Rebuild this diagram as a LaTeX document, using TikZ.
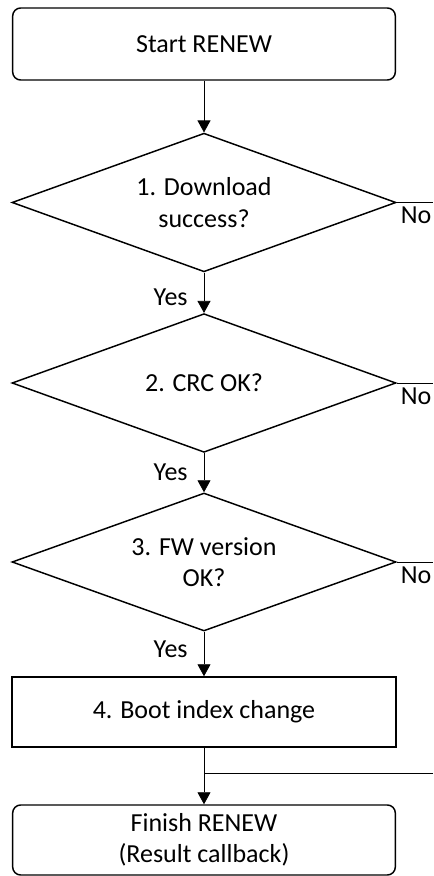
\documentclass[tikz,border=0pt]{standalone}
\usepackage{fontspec}
\setmainfont{Carlito}
\usetikzlibrary{shapes.geometric,arrows.meta,positioning}
\tikzset{
    rounded-box/.style = {draw, line width=1.1pt, rectangle, rounded corners=6pt, minimum width=287pt, minimum height=52.5pt, align=center, inner sep=0pt},
    process-box/.style = {draw, line width=1.1pt, rectangle, minimum width=288pt, minimum height=52.5pt, align=center, inner sep=0pt},
    decision-box/.style = {draw, line width=1.1pt, diamond, aspect=2.76, inner sep=0pt, minimum width=288pt, minimum height=104pt, align=center},
    flow-line/.style = {line width=0.6pt},
    flow-arrow/.style = {flow-line, -{Triangle[width=9.75pt, length=9pt]}},
    flow-label/.style = {inner sep=3pt},
}

\begin{document}
\begin{tikzpicture}[x=0.75pt, y=0.75pt, font=\fontsize{19.5}{23.5}\selectfont]
\useasboundingbox (0,0) rectangle (433,876);
\coordinate (right-edge) at (433,0);

\node [rounded-box, minimum height=54pt] (start) at (204,832) {Start RENEW};
\node [decision-box] (download) at (204,673.5) {1. Download\\success?};
\node [decision-box] (crc) at (204,493) {2. CRC OK?};
\node [decision-box, minimum height=103.5pt] (version) at (204,314) {3. FW version\\OK?};
\node [process-box] (boot) at (204,164) {4. Boot index change};
\node [rounded-box] (finish) at (204,36) {Finish RENEW\\(Result callback)};
\coordinate (join) at (204,103);

\draw [flow-arrow] (start) -- (download);
\draw [flow-arrow] (download) -- node[flow-label, left=9pt, pos=0.6] {Yes} (crc);
\draw [flow-arrow] (crc) -- node[flow-label, left=9pt, pos=0.5] {Yes} (version);
\draw [flow-arrow] (version) -- node[flow-label, left=9pt, pos=0.4] {Yes} (boot);
\draw [flow-line] (boot) -- (join);
\draw [flow-arrow] (join) -- (finish);
\draw [flow-line] (join -| right-edge) -- (join);

\draw [flow-line] (download.east) -- (download.east -| right-edge) node[flow-label, below left, inner xsep=1pt] {No};
\draw [flow-line] (crc.east) -- (crc.east -| right-edge) node[flow-label, below left, inner xsep=1pt] {No};
\draw [flow-line] (version.east) -- (version.east -| right-edge) node[flow-label, below left, inner xsep=1pt] {No};
\end{tikzpicture}
\end{document}
